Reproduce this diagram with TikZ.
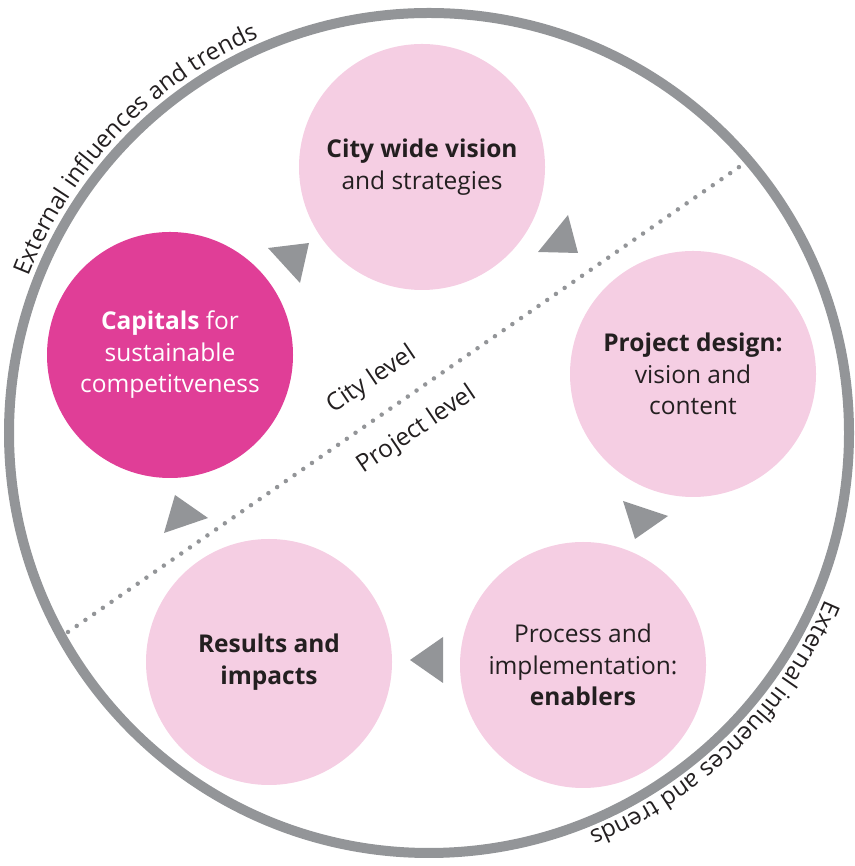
\documentclass[tikz,border=0pt]{standalone}
\usepackage{fontspec}
\setmainfont{Open Sans}
\usetikzlibrary{decorations.text}
\definecolor{ringgray}{RGB}{147,149,152}
\definecolor{palepink}{RGB}{245,206,227}
\definecolor{magentaA}{RGB}{224,62,151}
\definecolor{txt}{RGB}{35,31,32}
\newcommand{\bodyfont}{\fontsize{24.5}{31.5}\selectfont}
\begin{document}
\begin{tikzpicture}[x=1pt,y=1pt,
  bubble/.style={circle, fill=palepink, minimum size=246pt, inner sep=0pt, align=center, font=\bodyfont, text=txt},
  capbubble/.style={bubble, fill=magentaA, text=white},
  tri/.style={fill=ringgray},
  levellabel/.style={rotate=34, font=\bodyfont, text=txt, inner sep=0pt},
  ringtext/.style={decorate, decoration={text along path, text align=center, text color=txt, text={|\fontsize{24}{28}\selectfont|External influences and trends}}}
]
\useasboundingbox (0,0) rectangle (854,866);
\coordinate (O) at (429,433);
% outer ring
\draw[ringgray, line width=10pt] (O) circle[radius=420];
% curved labels
\path[ringtext] (O) ++(181:430) arc[start angle=181, end angle=91, radius=430];
\path[ringtext] (O) ++(-0.5:430) arc[start angle=-0.5, end angle=-90.5, radius=430];
% dotted divider
\coordinate (L1) at (68,234);
\coordinate (L2) at (742,701);
\draw[ringgray, line width=4.5pt, line cap=round, dash pattern=on 0pt off 10.6pt] (L1) -- (L2);
\node[levellabel] (citylvl) at (372,486) {City level};
\node[levellabel] (projlvl) at (417,436) {Project level};
% circles
\node[bubble] (city) at (422,699) {\textbf{City wide vision}\\and strategies};
\node[capbubble] (capitals) at (170,511) {\textbf{Capitals} for\\sustainable\\competitveness};
\node[bubble] (project) at (693,492) {\textbf{Project design:}\\vision and\\content};
\node[bubble] (process) at (583,201) {Process and\\implementation:\\\textbf{enablers}};
\node[bubble] (results) at (269,204) {\textbf{Results and}\\\textbf{impacts}};
% triangles
\fill[tri] (268,618) -- (309,623) -- (300,583) -- cycle;
\fill[tri] (568,651) -- (538,614) -- (578,613) -- cycle;
\fill[tri] (623,365) -- (668,350) -- (635,327) -- cycle;
\fill[tri] (410,206) -- (443,229) -- (443,183) -- cycle;
\fill[tri] (175,371) -- (208,348) -- (164,333) -- cycle;
\end{tikzpicture}
\end{document}
